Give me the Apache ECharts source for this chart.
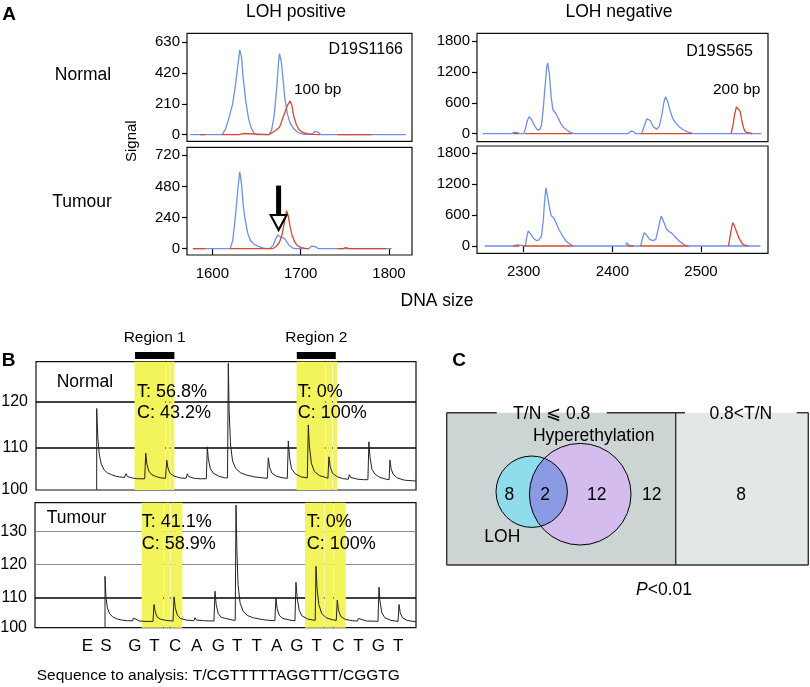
<!DOCTYPE html>
<html><head><meta charset="utf-8">
<script src="https://cdn.jsdelivr.net/npm/echarts@6/dist/echarts.min.js"></script>
<style>html,body{margin:0;padding:0;background:#fff}#c{width:810px;height:687px}</style>
</head><body><div id="c"></div>
<script>
const FONT = '"Liberation Sans", Arial, Helvetica, sans-serif';
const BLUE = '#6d90ee', RED = '#d9472d';

// ---------- Panel A data (DNA size, signal) ----------
const lohPosNormalTicks = [0, 210, 420, 630];
const lohPosTumourTicks = [0, 240, 480, 720];
const lohNegTicks = [0, 600, 1200, 1800];
const lohPosXTicks = [1600, 1700, 1800];
const lohNegXTicks = [2300, 2400, 2500];

const posNormalBlue = [[1575,0],[1589,0],[1591,8],[1593,0],[1611,0],[1615,40],[1619,120],[1623,210],[1626,330],[1629,480],[1631,576],[1633,530],[1635,380],[1638,220],[1641,110],[1644,45],[1647,12],[1650,0],[1664,0],[1667,30],[1670,130],[1673,330],[1675,500],[1676,553],[1678,500],[1680,380],[1682,250],[1685,140],[1688,80],[1692,40],[1697,15],[1703,3],[1713,3],[1716,22],[1718,27],[1720,15],[1723,0],[1819,0]];
const posNormalRed = [[1586,0],[1592,0],[1592,null],[1611,0],[1630,0],[1632,8],[1635,8],[1637,0],[1664,0],[1668,15],[1672,30],[1676,50],[1679,100],[1682,150],[1685,200],[1688,230],[1690,200],[1692,130],[1695,70],[1698,35],[1702,15],[1708,5],[1714,2],[1722,0],[1722,null],[1742,0],[1758,0],[1760,8],[1762,0],[1780,0]];
const posTumourBlue = [[1578,0],[1620,0],[1623,60],[1626,240],[1629,470],[1631,592],[1633,500],[1635,330],[1637,230],[1640,120],[1643,65],[1647,35],[1652,18],[1658,5],[1663,0],[1666,5],[1669,30],[1672,80],[1674,105],[1676,112],[1678,90],[1680,75],[1682,78],[1684,55],[1687,25],[1691,5],[1695,0],[1709,0],[1712,20],[1714,30],[1717,15],[1720,0],[1803,0]];
const posTumourRed = [[1578,0],[1592,0],[1592,null],[1620,0],[1632,0],[1634,5],[1636,0],[1668,0],[1672,15],[1676,50],[1679,110],[1682,220],[1684,293],[1686,250],[1688,170],[1690,110],[1693,55],[1696,25],[1700,10],[1705,3],[1709,0],[1709,null],[1742,0],[1748,0],[1751,8],[1755,0],[1797,0]];
const negNormalBlue = [[2254,0],[2286,0],[2289,25],[2292,25],[2295,0],[2300,0],[2302,100],[2304,250],[2306,330],[2309,270],[2312,160],[2315,80],[2318,75],[2320,160],[2322,480],[2324,900],[2326,1300],[2327,1373],[2329,1150],[2331,700],[2333,460],[2336,400],[2339,300],[2342,190],[2345,120],[2349,65],[2353,20],[2357,0],[2418,0],[2421,50],[2424,40],[2426,0],[2433,0],[2436,150],[2439,290],[2441,316],[2443,250],[2446,140],[2450,85],[2453,140],[2456,380],[2458,600],[2460,716],[2462,650],[2465,460],[2468,300],[2471,220],[2475,140],[2480,75],[2485,35],[2489,8],[2492,0],[2568,0]];
const negNormalRed = [[2288,0],[2294,0],[2294,null],[2301,0],[2355,0],[2355,null],[2432,0],[2490,0],[2490,null],[2534,0],[2536,150],[2538,380],[2540,520],[2542,554],[2544,440],[2546,260],[2548,110],[2550,35],[2552,5],[2558,0]];
const negTumourBlue = [[2256,0],[2287,0],[2289,20],[2293,20],[2295,0],[2302,0],[2303,140],[2305,290],[2308,230],[2311,150],[2314,110],[2317,115],[2320,190],[2322,480],[2323.5,850],[2325,1128],[2327,950],[2329,750],[2331,590],[2334,540],[2337,430],[2340,310],[2344,190],[2348,90],[2352,35],[2356,0],[2415,0],[2416,64],[2418,40],[2420,0],[2432,0],[2434,150],[2436,258],[2439,200],[2442,130],[2446,105],[2449,130],[2452,350],[2455,580],[2457,510],[2459,420],[2461,330],[2464,280],[2467,250],[2470,190],[2474,120],[2478,60],[2482,18],[2486,0],[2567,0]];
const negTumourRed = [[2288,0],[2295,0],[2295,null],[2300,0],[2356,0],[2356,null],[2416,0],[2424,0],[2424,null],[2432,0],[2486,0],[2486,null],[2531,0],[2533,200],[2535,400],[2536,451],[2538,380],[2540,280],[2543,150],[2546,60],[2549,15],[2553,0]];
const arrowX = 1675, arrowShaftMid = 371, arrowHeadMid = 202;

// ---------- Panel B data (pyrogram) ----------
const dispLetters = ['E','S','G','T','C','A','G','T','T','A','G','T','C','T','G','T'];
const dispPos = [-0.29,0.63,2.06,3.02,4.04,5.11,6.18,7.11,8.07,9.06,10.05,11.04,12.1,13.09,14.08,15.06];
const pyroNormal = [[0.574,100.65],[0.574,118.5],[0.63,112],[0.7,108.5],[0.8,106.3],[0.95,105],[1.1,104.4],[1.3,104],[1.5,103.7],[1.7,103.5],[1.95,103.4],[2.02,104.2],[2.1,103.6],[2.3,103.3],[2.6,103.1],[2.95,103.1],[3.0,108.7],[3.06,106.3],[3.15,104.8],[3.3,104],[3.5,103.6],[3.75,103.3],[3.98,103.2],[4.04,107.2],[4.1,105.5],[4.2,104.3],[4.4,103.7],[4.7,103.3],[5.0,103.2],[5.06,104.2],[5.12,103.6],[5.4,103.2],[5.7,103.1],[6.0,103.1],[6.05,110.1],[6.1,107.5],[6.2,105.3],[6.35,104.3],[6.6,103.7],[6.9,103.3],[7.05,103.3],[7.09,128.4],[7.13,118],[7.2,110.5],[7.3,107],[7.45,105.4],[7.7,104.4],[8.0,103.9],[8.4,103.5],[8.8,103.3],[9.02,103.2],[9.07,107.7],[9.13,105.6],[9.25,104.3],[9.5,103.6],[9.8,103.3],[10.01,103.2],[10.06,111.4],[10.12,107.8],[10.22,105.3],[10.4,104.2],[10.7,103.5],[11.0,103.3],[11.05,114.9],[11.1,110.5],[11.2,106.5],[11.35,104.7],[11.6,103.8],[11.9,103.4],[12.02,103.2],[12.07,107.9],[12.13,105.8],[12.25,104.3],[12.5,103.5],[12.8,103.1],[13.03,103.0],[13.08,104.0],[13.15,103.4],[13.5,103.0],[13.8,102.9],[14.0,102.9],[14.05,111.2],[14.1,108],[14.2,105.2],[14.35,104.1],[14.6,103.4],[14.9,103.0],[15.05,102.9],[15.09,107.2],[15.15,105.3],[15.25,104.1],[15.45,103.3],[15.8,102.8],[16.38,102.6]];
const pyroTumour = [[0.58,101],[0.58,116.5],[0.63,110],[0.7,107],[0.8,105.3],[0.95,104.3],[1.15,103.7],[1.4,103.3],[1.7,103.1],[1.95,103.1],[1.98,103.9],[2.05,103.3],[2.3,103.0],[2.6,102.9],[2.95,102.9],[3.0,108.0],[3.06,105.8],[3.15,104.3],[3.3,103.6],[3.6,103.2],[3.94,103.0],[3.99,110.3],[4.05,107],[4.15,104.8],[4.3,103.8],[4.6,103.3],[4.97,103.1],[5.02,104.0],[5.1,103.3],[5.5,103.1],[5.96,103.0],[6.01,112.0],[6.07,108],[6.17,105.3],[6.3,104.2],[6.53,103.8],[6.56,104.2],[6.62,103.6],[6.9,103.3],[7.01,103.2],[7.05,138.0],[7.09,125],[7.15,114],[7.25,108.5],[7.4,106],[7.6,104.7],[7.9,104],[8.3,103.5],[8.7,103.2],[8.97,103.1],[9.02,110.0],[9.08,106.8],[9.18,104.8],[9.35,103.8],[9.7,103.3],[9.96,103.1],[10.01,114.7],[10.07,110],[10.17,106.3],[10.3,104.6],[10.6,103.6],[10.96,103.2],[11.0,119.5],[11.05,113],[11.14,108],[11.28,105.3],[11.5,104],[11.8,103.4],[12.0,103.2],[12.05,109.3],[12.11,106.3],[12.22,104.4],[12.45,103.5],[12.8,103.1],[13.05,103.0],[13.09,103.8],[13.15,103.3],[13.5,103.0],[13.8,103.0],[14.06,102.9],[14.11,113.2],[14.16,109],[14.25,105.5],[14.4,104],[14.7,103.2],[15.05,102.9],[15.1,108.0],[15.16,105.5],[15.27,104],[15.5,103.2],[15.94,102.8]];
const regionNames = ['Region 1', 'Region 2'];
const regionRanges = [[2.47, 4.42], [10.48, 12.41]];
const normalHighlights = [[2.45,3.97],[4.0,4.19],[4.22,4.42],[10.47,11.87],[11.9,12.23],[12.26,12.48]];
const tumourHighlights = [[2.39,3.45],[3.48,3.81],[3.84,4.40],[10.46,11.39],[11.42,11.84],[11.87,12.47]];
const normalT = [56.8, 0], normalC = [43.2, 100];
const tumourT = [41.1, 0], tumourC = [58.9, 100];
const pyroTopTicks = [100.64, 110, 120];
const pyroBottomTicks = [101, 110, 120, 130];
const sequenceText = 'Sequence to analysis: T/CGTTTTTAGGTTT/CGGTG';

// ---------- Panel C data (Venn) ----------
const groupNames = ['T/N \u2A7D 0.8', '0.8<T/N'];
const vennSetNames = ['LOH', 'Hyperethylation'];
const vennRegionCounts = [8, 2, 12];     // LOH only, both, hyperethylation only
const groupOtherCounts = [12, 8];        // neither (T/N<=0.8), T/N>0.8
const pValueText = '<0.01';

// ---------- Layout for panel C (grid units = px) ----------
const CW = 361.6, CH = 152.3;
const cellX = [[0, 229], [229, CW]];
const cellFills = ['#ccd4d4', '#e2e7e7'];
const topGaps = [[50, 160], [238.3, 350]];
const circles = [{cx: 85, cy: 73.3, r: 35.7, fill: '#8edcec'}, {cx: 133.5, cy: 70.8, r: 50.8, fill: '#d4bdee'}];
const overlapFill = '#8a9be4';
const regionLabelPos = [[62.6, 70], [98.3, 70], [150, 70]];
const otherLabelPos = [[205, 70], [294.3, 70]];
const groupLabelPos = [[105, 150.7], [294.1, 150.7]];
const setLabelPos = [[55.6, 27.7], [147, 129]];
const pPos = [217.3, -25];

const chart = echarts.init(document.getElementById('c'));

function grid(left, top, width, height, show) {
  return {left, top, width, height, show: show !== false, borderColor: '#111', borderWidth: 1.2,
    backgroundColor: 'transparent', containLabel: false, outerBoundsMode: 'none'};
}
const plain = v => String(v);
function yA(gi, min, max, ticks) {
  return {type: 'value', gridIndex: gi, min, max, axisLine: {show: false}, splitLine: {show: false},
    axisTick: {show: true, length: 5, lineStyle: {color: '#000', width: 1.2}, customValues: ticks},
    axisLabel: {margin: 7, fontSize: 15, color: '#000', fontFamily: FONT, customValues: ticks, formatter: plain}};
}
function xA(gi, min, max, ticks) {
  const ax = {type: 'value', gridIndex: gi, min, max, axisLine: {show: false}, splitLine: {show: false}};
  if (ticks) {
    ax.axisTick = {show: true, length: 6, lineStyle: {color: '#000', width: 1.2}, customValues: ticks};
    ax.axisLabel = {margin: 11, fontSize: 15, color: '#000', fontFamily: FONT, customValues: ticks, formatter: plain};
  } else { ax.axisTick = {show: false}; ax.axisLabel = {show: false}; }
  return ax;
}
function trace(data, color, gi, extra) {
  return Object.assign({type: 'line', xAxisIndex: gi, yAxisIndex: gi, data, showSymbol: false, symbol: 'none',
    lineStyle: {color, width: 1.3}, itemStyle: {color}, silent: true, z: 3}, extra || {});
}
function pyroLabelY(v) { return v < 102 ? '100' : String(v); }

const grids = [
  grid(187, 33.3, 225, 108), grid(187, 147.3, 225, 107.7),
  grid(477, 33.3, 291, 108.3), grid(477, 146, 291, 107.3),
  grid(36, 361.7, 380, 128.3), grid(35, 502.7, 381, 125),
  grid(446.7, 412.7, CW, CH, false)
];
const xAxes = [
  xA(0, 1571.3, 1826), xA(1, 1571.3, 1826, lohPosXTicks),
  xA(2, 2247.3, 2575.6), xA(3, 2247.3, 2575.6, lohNegXTicks),
  xA(4, -2.431, 16.381),
  {type: 'value', gridIndex: 5, min: -2.877, max: 15.938, axisLine: {show: false}, splitLine: {show: false}, axisTick: {show: false},
   axisLabel: {margin: 10, fontSize: 17, color: '#000', fontFamily: FONT, customValues: dispPos,
     formatter: v => { const k = dispPos.findIndex(p => Math.abs(p - v) < 1e-6); return k >= 0 ? dispLetters[k] : ''; }}},
  {type: 'value', gridIndex: 6, min: 0, max: CW, show: false}
];
const yAxes = [
  yA(0, -45, 691, lohPosNormalTicks), yA(1, -48.6, 781.7, lohPosTumourTicks),
  yA(2, -155, 1950, lohNegTicks), yA(3, -141, 1935, lohNegTicks),
  {type: 'value', gridIndex: 4, min: 100.64, max: 128.76, axisLine: {show: false}, splitLine: {show: false}, axisTick: {show: false},
   axisLabel: {margin: 8, fontSize: 16, color: '#000', fontFamily: FONT, customValues: pyroTopTicks, formatter: pyroLabelY}},
  {type: 'value', gridIndex: 5, min: 101, max: 138.7, axisLine: {show: false}, splitLine: {show: false}, axisTick: {show: false},
   axisLabel: {margin: 8, fontSize: 16, color: '#000', fontFamily: FONT, customValues: pyroBottomTicks, formatter: pyroLabelY}},
  {type: 'value', gridIndex: 6, min: 0, max: CH, show: false}
];

function gridLines(list) {
  return {silent: true, symbol: 'none', z: 0, label: {show: false}, animation: false,
    data: list.map(l => ({yAxis: l[0], lineStyle: {color: l[1], width: l[2], type: 'solid'}}))};
}
function highlights(list) {
  return {silent: true, z: 1, label: {show: false}, itemStyle: {color: '#f3f35c', opacity: 1, borderWidth: 0},
    data: list.map(r => [{xAxis: r[0]}, {xAxis: r[1]}])};
}

const series = [
  trace(posNormalBlue, BLUE, 0), trace(posNormalRed, RED, 0),
  trace(posTumourBlue, BLUE, 1), trace(posTumourRed, RED, 1, {
    markPoint: {silent: true, animation: false, label: {show: false}, data: [
      {coord: [arrowX, arrowShaftMid], symbol: 'rect', symbolSize: [5, 30], itemStyle: {color: '#000'}},
      {coord: [arrowX, arrowHeadMid], symbol: 'triangle', symbolRotate: 180, symbolSize: [16, 15],
       itemStyle: {color: '#fff', borderColor: '#000', borderWidth: 2}}
    ]}}),
  trace(negNormalBlue, BLUE, 2), trace(negNormalRed, RED, 2),
  trace(negTumourBlue, BLUE, 3), trace(negTumourRed, RED, 3),
  trace(pyroNormal, '#222', 4, {lineStyle: {color: '#222', width: 1},
    markLine: gridLines([[110, '#000', 1.5], [120, '#000', 1.5]]), markArea: highlights(normalHighlights)}),
  trace(pyroTumour, '#222', 5, {lineStyle: {color: '#222', width: 1},
    markLine: gridLines([[110, '#000', 1.5], [120, '#8a8a8a', 1.2], [130, '#8a8a8a', 1.2]]), markArea: highlights(tumourHighlights)}),
  {type: 'custom', xAxisIndex: 4, yAxisIndex: 4, clip: false, silent: true, z: 5,
   data: regionRanges.map((r, i) => [r[0], 130]),
   renderItem(params, api) {
     const r = regionRanges[params.dataIndex];
     const a = api.coord([r[0], 130.9]), b = api.coord([r[1], 129.35]);
     const ty = api.coord([r[0], 133.95])[1];
     return {type: 'group', children: [
       {type: 'rect', shape: {x: a[0], y: a[1], width: b[0] - a[0], height: b[1] - a[1]}, style: {fill: '#000'}},
       {type: 'text', x: (a[0] + b[0]) / 2, y: ty, style: {text: regionNames[params.dataIndex], font: '15.5px ' + FONT,
         fill: '#000', textAlign: 'center', textVerticalAlign: 'middle', align: 'center', verticalAlign: 'middle'}}
     ]};
   }},
  {type: 'custom', xAxisIndex: 6, yAxisIndex: 6, clip: false, silent: true, z: 5, data: [[0, 0]],
   renderItem(params, api) {
     const P = (x, y) => api.coord([x, y]);
     const ch = [];
     cellX.forEach((c, k) => {
       const a = P(c[0], CH), b = P(c[1], 0);
       ch.push({type: 'rect', shape: {x: a[0], y: a[1], width: b[0] - a[0], height: b[1] - a[1]}, style: {fill: cellFills[k]}});
     });
     const c1 = P(circles[0].cx, circles[0].cy), r1 = api.size([circles[0].r, 0])[0];
     const c2 = P(circles[1].cx, circles[1].cy), r2 = api.size([circles[1].r, 0])[0];
     ch.push({type: 'circle', shape: {cx: c1[0], cy: c1[1], r: r1}, style: {fill: circles[0].fill}});
     ch.push({type: 'circle', shape: {cx: c2[0], cy: c2[1], r: r2}, style: {fill: circles[1].fill}});
     const dx = c2[0] - c1[0], dy = c2[1] - c1[1], d = Math.hypot(dx, dy);
     const aa = (d * d + r1 * r1 - r2 * r2) / (2 * d), h = Math.sqrt(r1 * r1 - aa * aa);
     const mx = c1[0] + aa * dx / d, my = c1[1] + aa * dy / d;
     const B = [mx - h * dy / d, my + h * dx / d], T = [mx + h * dy / d, my - h * dx / d];
     const lens = `M${T[0]} ${T[1]} A${r1} ${r1} 0 0 1 ${B[0]} ${B[1]} A${r2} ${r2} 0 0 1 ${T[0]} ${T[1]} Z`;
     ch.push({type: 'path', shape: {pathData: lens}, style: {fill: overlapFill}});
     ch.push({type: 'circle', shape: {cx: c1[0], cy: c1[1], r: r1}, style: {fill: 'none', stroke: '#000', lineWidth: 1}});
     ch.push({type: 'circle', shape: {cx: c2[0], cy: c2[1], r: r2}, style: {fill: 'none', stroke: '#000', lineWidth: 1}});
     const segs = [[0, 0, 0, CH], [0, 0, CW, 0], [CW, 0, CW, CH], [cellX[0][1], 0, cellX[0][1], CH]];
     let x0 = 0;
     topGaps.forEach(g => { segs.push([x0, CH, g[0], CH]); x0 = g[1]; });
     segs.push([x0, CH, CW, CH]);
     segs.forEach(s => {
       const a = P(s[0], s[1]), b = P(s[2], s[3]);
       ch.push({type: 'line', shape: {x1: a[0], y1: a[1], x2: b[0], y2: b[1]}, style: {stroke: '#333', lineWidth: 1.4}});
     });
     const txt = (pos, text, extra) => {
       const p = P(pos[0], pos[1]);
       ch.push({type: 'text', x: p[0], y: p[1], style: Object.assign({text: String(text), font: '17.5px ' + FONT, fill: '#000',
         textAlign: 'center', textVerticalAlign: 'middle', align: 'center', verticalAlign: 'middle'}, extra || {})});
     };
     vennRegionCounts.forEach((v, i) => txt(regionLabelPos[i], v));
     groupOtherCounts.forEach((v, i) => txt(otherLabelPos[i], v));
     groupNames.forEach((v, i) => txt(groupLabelPos[i], v));
     vennSetNames.forEach((v, i) => txt(setLabelPos[i], v));
     txt(pPos, '{i|P}{n|' + pValueText + '}', {rich: {i: {fontStyle: 'italic', fontSize: 17.5, fontFamily: FONT, fill: '#000'},
       n: {fontSize: 17.5, fontFamily: FONT, fill: '#000'}}});
     return {type: 'group', children: ch};
   }}
];

function T(text, x, y, size, align, weight, rot) {
  return {type: 'text', x, y, rotation: rot || 0, z: 100, silent: true,
    style: {text, font: (weight || 'normal') + ' ' + size + 'px ' + FONT, fill: '#000',
      textAlign: align || 'center', textVerticalAlign: 'middle', align: align || 'center', verticalAlign: 'middle'}};
}
const pct = (l, v) => l + ': ' + v + '%';
const graphic = [
  T('A', 9, 15, 19, 'center', 'bold'),
  T('LOH positive', 296, 12, 17.5), T('LOH negative', 619, 12, 17.5),
  T('Normal', 83, 75, 17.5), T('Tumour', 82, 202, 17.5),
  T('Signal', 132.3, 141.2, 15, 'center', 'normal', Math.PI / 2),
  T('DNA size', 437, 301, 17.5),
  T('D19S1166', 403, 50, 16, 'right'), T('100 bp', 294, 90, 15.5, 'left'),
  T('D19S565', 753, 52, 16, 'right'), T('200 bp', 713, 89.5, 15.5, 'left'),
  T('B', 8.5, 361, 19, 'center', 'bold'),
  T('Normal', 56.7, 381.7, 17.5, 'left'),
  T(pct('T', normalT[0]), 137, 391.7, 18, 'left'), T(pct('C', normalC[0]), 137, 413.3, 18, 'left'),
  T(pct('T', normalT[1]), 297.7, 391.7, 18, 'left'), T(pct('C', normalC[1]), 297.7, 413.3, 18, 'left'),
  T('Tumour', 46.7, 518.3, 17.5, 'left'),
  T(pct('T', tumourT[0]), 141.7, 522.3, 18, 'left'), T(pct('C', tumourC[0]), 141.7, 544, 18, 'left'),
  T(pct('T', tumourT[1]), 306.7, 522.3, 18, 'left'), T(pct('C', tumourC[1]), 306.7, 544, 18, 'left'),
  T(sequenceText, 218.3, 676, 15.5),
  T('C', 459, 361, 19, 'center', 'bold')
];

chart.setOption({
  animation: false, backgroundColor: '#fff',
  textStyle: {fontFamily: FONT},
  grid: grids, xAxis: xAxes, yAxis: yAxes, series, graphic
});
</script></body></html>
